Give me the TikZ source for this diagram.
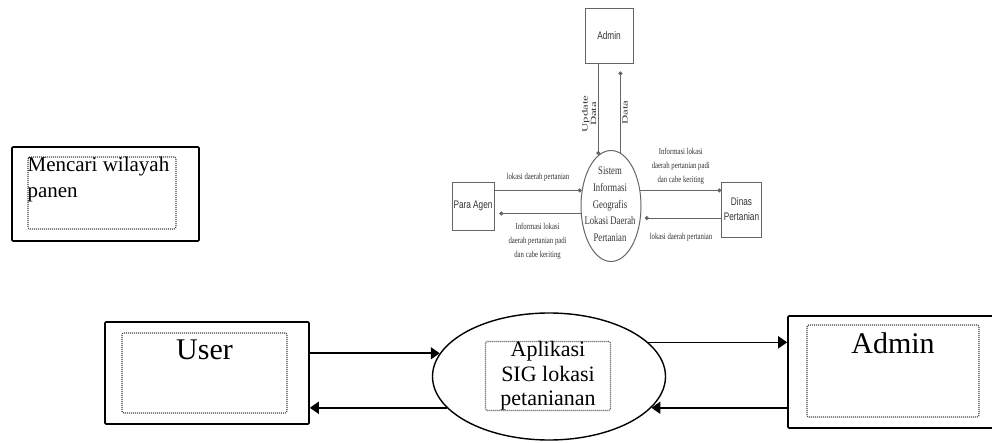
\documentclass[tikz,border=0pt]{standalone}
\usepackage{fontspec}
\setmainfont{Liberation Serif}
\newfontfamily\lsans{Liberation Sans}
\usetikzlibrary{positioning,shapes.geometric,arrows.meta}

\begin{document}
\begin{tikzpicture}[x=1pt, y=-1pt,
        box/.style = {draw, line width=1.6pt, rounded corners=1pt, inner sep=0pt},
        inbox/.style = {draw=black!75, line width=1.2pt, dash pattern=on 1pt off 1pt, rounded corners=2pt, inner sep=0pt},
        big/.style = {inner sep=0pt, font=\fontsize{30}{34}\selectfont},
        ent/.style = {draw=black!60, line width=0.9pt, inner sep=0pt, xscale=0.75, align=center, text=black!80, font=\lsans\fontsize{11}{15}\selectfont},
        lbl/.style = {xscale=0.75, align=center, inner sep=2pt, text=black!80, font=\fontsize{9}{14}\selectfont},
        rlbl/.style = {rotate=90, xscale=1.6, align=center, inner sep=1.5pt, text=black!80, font=\fontsize{8}{8.5}\selectfont},
        flow/.style = {draw=black!60, line width=1pt, -{Circle[length=4pt]}},
        arr/.style = {line width=1.6pt, -{Triangle[length=9pt, width=12pt]}}]

    \useasboundingbox (0,0) rectangle (992,443);
    \clip (0,0) rectangle (992,443);

    % kotak kiri
    \node[box, minimum width=187, minimum height=94] (cari) at (105.5,194) {};
    \node[inbox, minimum width=148, minimum height=72] (cariin) at (102,193) {};
    \node[anchor=north west, inner sep=0pt, align=left, font=\fontsize{21}{26}\selectfont] (caritxt) at (cariin.north west) {Mencari wilayah\\panen};

    % diagram konteks atas
    \node[ent, minimum width=64, minimum height=55] (adm) at (609,35.5) {Admin};
    \node[ent, minimum width=56, minimum height=48] (agen) at (473,206) {Para Agen};
    \node[ent, minimum width=53, minimum height=55] (dinas) at (741.5,209.5) {Dinas\\Pertanian};
    \node[draw=black!60, line width=1pt, ellipse, minimum width=60, minimum height=111, inner sep=0pt] (sig) at (611,206) {};
    \node[lbl, font=\fontsize{11.6}{16.7}\selectfont] (sigtxt) at (610,204.5) {Sistem\\Informasi\\Geografis\\Lokasi Daerah\\Pertanian};

    \draw[flow] (adm.south -| sig.104) -- (sig.104) node [pos=0.55, anchor=south, rlbl] {Update\\Data};
    \draw[flow, shorten >=8pt] (sig.80) -- (sig.80 |- adm.south) node [pos=0.45, anchor=north, rlbl] {Data};
    \draw[flow] (agen.east |- sig.152) -- (sig.152) node [midway, above=7pt, lbl] {lokasi daerah pertanian};
    \draw[flow, shorten >=5pt] (sig.194) -- (sig.194 -| agen.east) node [midway, below=7pt, lbl] {Informasi lokasi\\daerah pertanian padi\\dan cabe keriting};
    \draw[flow] (sig.28) -- (sig.28 -| dinas.west) node [midway, above=3pt, lbl] {Informasi lokasi\\daerah pertanian padi\\dan cabe keriting};
    \draw[flow, shorten >=4pt] (dinas.west |- sig.338) -- (sig.338) node [midway, below=13pt, lbl] {lokasi daerah pertanian};

    % diagram konteks bawah
    \node[box, minimum width=204, minimum height=102] (user) at (207,373) {};
    \node[inbox, minimum width=165, minimum height=80] (userin) at (204.5,373) {};
    \node[big, below=7pt of userin.north] (usertxt) {User};

    \node[box, minimum width=208, minimum height=112] (admin) at (892,372) {};
    \node[inbox, minimum width=172, minimum height=92] (adminin) at (893,371) {};
    \node[big, below=8pt of adminin.north] (admintxt) {Admin};

    \node[draw, line width=1.4pt, ellipse, minimum width=233, minimum height=127, inner sep=0pt] (app) at (549,376.5) {};
    \node[inbox, minimum width=125, minimum height=69, align=center, font=\fontsize{22}{24.5}\selectfont] (apptxt) at (548,376) {Aplikasi\\SIG lokasi\\petanianan};

    \draw[arr] (user.east |- app.168) -- (app.168);
    \draw[arr] (app.197) -- (app.197 -| user.east);
    \draw[arr] (app.19) -- (app.19 -| admin.west);
    \draw[arr] (admin.west |- app.343) -- (app.343);
\end{tikzpicture}
\end{document}
